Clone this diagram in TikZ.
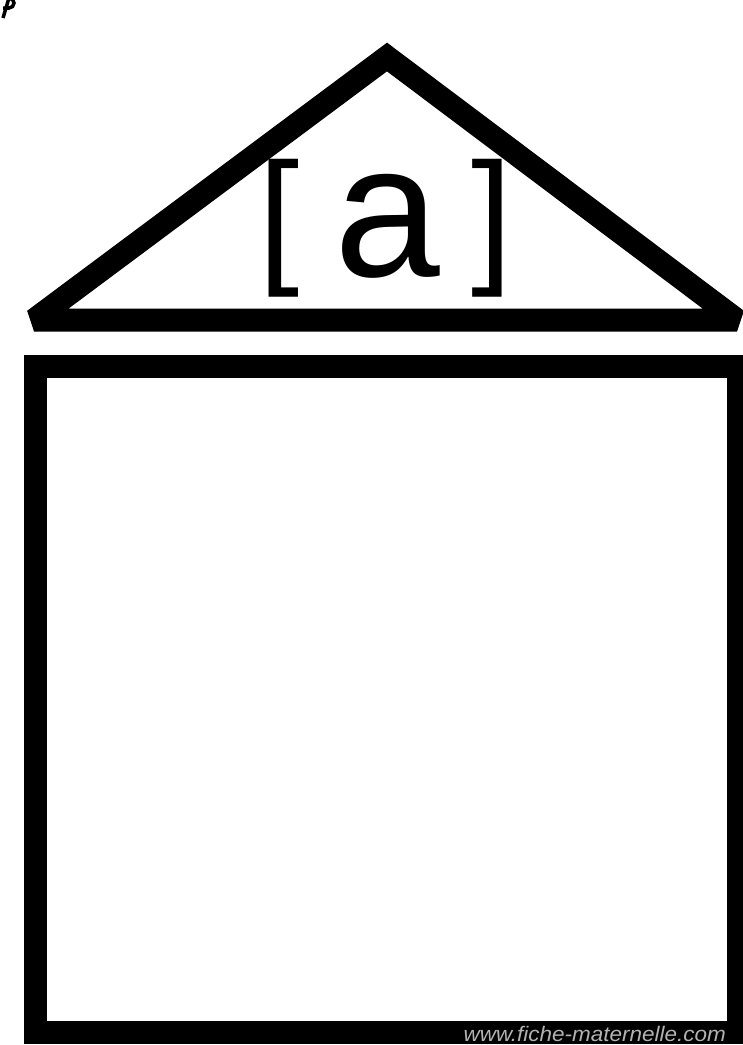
\documentclass[tikz,border=0pt]{standalone}
\usepackage{fontspec}
\setmainfont{Liberation Sans}
\begin{document}
\begin{tikzpicture}[x=1pt,y=-1pt,
  wall/.style={line width=23pt,miter limit=2},
  sound/.style={inner sep=0pt,anchor=base}]
\useasboundingbox (0,0) rectangle (743,1045);
% roof
\draw[wall] (34,320) -- (387,57) -- (737,320) -- cycle;
% house body
\draw[wall] (35.5,366.5) rectangle (738.5,1032);
% speck in the corner
\draw[line width=3.5pt] (3,8) -- (9,8) arc (90:-90:5) -- (3,18);
\node[sound,font=\fontsize{148}{148}\selectfont] (lbr) at (279,266) {[};
\node[sound,font=\fontsize{190}{190}\selectfont] (letter) at (387,276) {a};
\node[sound,font=\fontsize{148}{148}\selectfont] (rbr) at (492,266) {]};
\node[inner sep=0pt,anchor=base east,text=gray!60,
  font=\fontsize{21}{21}\selectfont\itshape,xscale=1.07] (site) at (726,1041.5) {www.fiche-maternelle.com};
\end{tikzpicture}
\end{document}
